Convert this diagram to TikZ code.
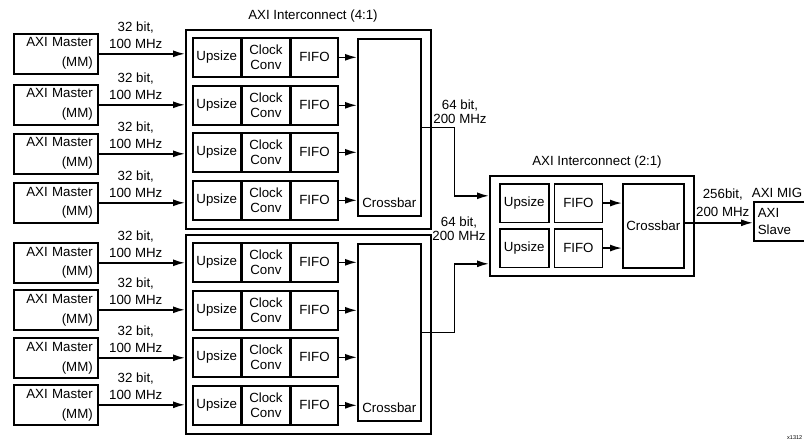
\documentclass[tikz,border=0pt]{standalone}
\usepackage{fontspec}
\setmainfont{Liberation Sans}
\usetikzlibrary{positioning,arrows.meta}
\tikzset{
  box/.style={draw, inner sep=0pt, anchor=north west},
  cell/.style={draw, inner sep=0pt, minimum height=39pt, align=center},
  master/.style={draw, anchor=north west, minimum width=84, minimum height=40, text width=74,
    align=right, inner xsep=5pt, inner ysep=0pt, font=\fontsize{13.3}{20}\selectfont},
  rate/.style={align=center, inner sep=2pt, font=\fontsize{13.3}{17}\selectfont},
  ratetight/.style={align=center, inner sep=0pt, font=\fontsize{13.3}{14}\selectfont},
  title/.style={inner sep=0pt}
}
\begin{document}
\begin{tikzpicture}[x=1pt, y=-1pt, line width=1.6pt, >={Latex[length=12pt,width=7pt]}, font=\fontsize{13.3}{15}\selectfont]
\useasboundingbox (0,0) rectangle (804,447);
\clip (0,0) rectangle (804,447);
\node[title] (titlea) at (313,16) {AXI Interconnect (4:1)};
\foreach \g/\dy/\ma/\mb/\mc/\md in {a/0/33/84/133/182, b/205/242/289/337/384}{
  \node[box, minimum width=245, minimum height=199] (ic\g) at (185,29+\dy) {};
  \node[box, minimum width=63, minimum height=177, label={[anchor=south, yshift=5pt]south:Crossbar}] (xbar\g) at (357,38+\dy) {};
  \foreach \r/\m [count=\i] in {37/\ma, 85/\mb, 132/\mc, 180/\md}{
    \node[cell, anchor=north west, minimum width=48] (up\g\i) at (192,\r+\dy) {Upsize};
    \node[cell, minimum width=47, right=0pt of up\g\i] (ck\g\i) {Clock\\Conv};
    \node[cell, minimum width=47, right=0pt of ck\g\i] (ff\g\i) {FIFO};
    \draw[->] (ff\g\i.east) -- (ff\g\i.east -| xbar\g.west);
    \node[master] (m\g\i) at (13,\m) {AXI Master\\(MM)};
    \draw[->] (m\g\i.east) -- (m\g\i.east -| ic\g.west) node[rate, midway, above, xshift=-6pt, yshift=2pt] {32 bit,\\100 MHz};
  }
}
% second stage
\node[box, minimum width=204, minimum height=100] (ictwo) at (489,175) {};
\node[title] (titleb) at (597,162) {AXI Interconnect (2:1)};
\node[box, minimum width=61, minimum height=84] (xbarc) at (622,183) {};
\node (xbartext) at (xbarc.center) {Crossbar};
\foreach \r [count=\i] in {183,228}{
  \node[cell, anchor=north west, minimum width=49, minimum height=38.5] (upc\i) at (499,\r) {Upsize};
  \node[cell, minimum width=48, minimum height=38.5, right=4pt of upc\i] (ffc\i) {FIFO};
  \draw[->] (ffc\i.east) -- (ffc\i.east -| xbarc.west);
}
\draw[->] (xbara.east) -- ++(33,0) |- ([yshift=30pt]ictwo.west);
\draw[->] (xbarb.east) -- ++(33,0) |- ([yshift=-38pt]ictwo.west);
\node[ratetight] (ratea) at (460,112) {64 bit,\\200 MHz};
\node[ratetight] (rateb) at (459,229) {64 bit,\\200 MHz};
% memory side
\node[box, minimum width=70, minimum height=39, text width=62, align=left, inner xsep=4pt,
  font=\fontsize{13.3}{17}\selectfont] (slave) at (753,201) {AXI\\Slave};
\node[title, anchor=east] (mig) at (803,193) {AXI MIG};
\draw[->] ([yshift=3pt]xbarc.east) -- ([yshift=3pt]xbarc.east -| slave.west)
  node[rate, midway, above, xshift=4pt, yshift=3pt, font=\fontsize{13.3}{18}\selectfont] {256bit,\\200 MHz};
\node[title, anchor=east, font=\fontsize{5.5}{6}\selectfont] (figid) at (803,438) {x1312};
\end{tikzpicture}
\end{document}
